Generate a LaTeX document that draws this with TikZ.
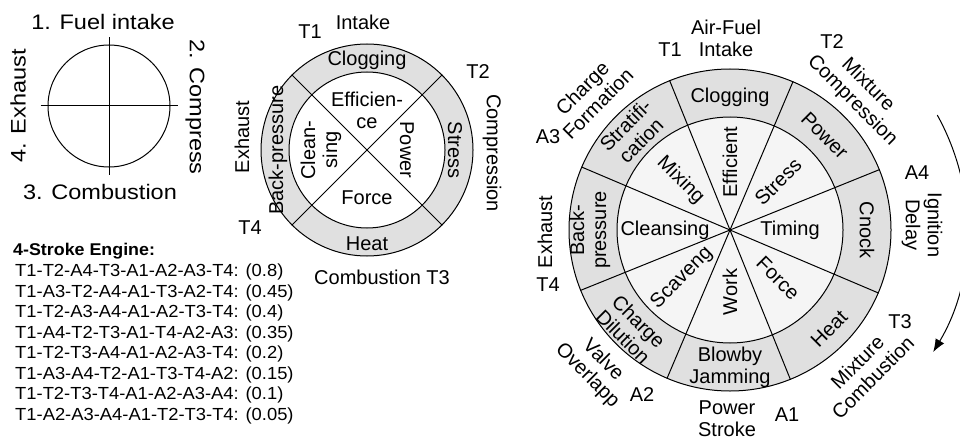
\documentclass[tikz,border=0pt]{standalone}
\usepackage{fontspec}
\setmainfont{Liberation Sans}
\newfontfamily\widefont[FakeStretch=1.12]{Liberation Sans}
\newfontfamily\listfont[FakeStretch=1.05]{Liberation Sans}
\usetikzlibrary{arrows.meta,calc}

\definecolor{ringgray}{HTML}{E0E0E0}
\definecolor{corefill}{HTML}{F5F5F5}

\tikzset{
  lbl/.style={font=\fontsize{20}{22}\selectfont, inner sep=0pt, align=center},
  biglbl/.style={font=\widefont\fontsize{21}{23}\selectfont, inner sep=0pt},
  listline/.style={font=\listfont\fontsize{17.5}{20}\selectfont, anchor=west, inner sep=0pt},
  listhead/.style={font=\listfont\bfseries\fontsize{17}{20}\selectfont, anchor=west, inner sep=0pt},
  disc/.style={circle, draw=black, line width=1pt, inner sep=0pt},
  spoke/.style={draw=black, line width=1pt},
}

\begin{document}
\begin{tikzpicture}[x=1pt,y=1pt]
\clip (0,0) rectangle (960,-441);
\fill[white] (0,0) rectangle (960,-441);

% ---------- four-stroke cycle sketch ----------
\node[disc, minimum size=122pt] (lc) at (109,-106) {};
\draw[spoke] ($(lc.west)+(-7,0)$) -- ($(lc.east)+(7,0)$);
\draw[spoke] ($(lc.north)+(0,7)$) -- ($(lc.south)+(0,-7)$);
\node[biglbl] (s1) at (103,-22) {1. Fuel intake};
\node[biglbl, rotate=-90] (s2) at (195,-107) {2. Compress};
\node[biglbl] (s3) at (100,-192) {3. Combustion};
\node[biglbl, rotate=90] (s4) at (18,-106) {4. Exhaust};

% ---------- sequence list ----------
\node[listhead] (lh) at (13,-251) {4-Stroke Engine:};
\foreach \txt [count=\i from 0] in {
  {T1-T2-A4-T3-A1-A2-A3-T4: (0.8)},
  {T1-A3-T2-A4-A1-T3-A2-T4: (0.45)},
  {T1-T2-A3-A4-A1-A2-T3-T4: (0.4)},
  {T1-A4-T2-T3-A1-T4-A2-A3: (0.35)},
  {T1-T2-T3-A4-A1-A2-A3-T4: (0.2)},
  {T1-A3-A4-T2-A1-T3-T4-A2: (0.15)},
  {T1-T2-T3-T4-A1-A2-A3-A4: (0.1)},
  {T1-A2-A3-A4-A1-T2-T3-T4: (0.05)}}
  \node[listline] (seq\i) at (15,{-272-20.5*\i}) {\txt};

% ---------- four-sector wheel ----------
\node[disc, minimum size=212pt, fill=ringgray] (mo) at (367,-150) {};
\node[disc, minimum size=156pt, fill=white] (mi) at (mo.center) {};
\draw[spoke] (mo.45) -- (mo.225);
\draw[spoke] (mo.135) -- (mo.315);
\begin{scope}[shift={(mo.center)}]
  \node[lbl] (m-clog) at (90:90) {Clogging};
  \node[lbl, rotate=-90] (m-stress) at (0:88) {Stress};
  \node[lbl] (m-heat) at (-90:94) {Heat};
  \node[lbl, rotate=90] (m-back) at (180:89) {Back-pressure};
  \node[lbl] (m-eff) at (90:40) {Efficien-\\ce};
  \node[lbl, rotate=-90] (m-pow) at (0:40) {Power};
  \node[lbl] (m-force) at (-90:48) {Force};
  \node[lbl, rotate=90] (m-clean) at (180:46) {Clean-\\sing};
\end{scope}
\node[lbl] (m-t1) at (310,-32) {T1};
\node[lbl] (m-in) at (363,-22) {Intake};
\node[lbl] (m-t2) at (478,-72) {T2};
\node[lbl, rotate=-90] (m-comp) at (492,-153) {Compression};
\node[lbl, rotate=90] (m-exh) at (242,-137) {Exhaust};
\node[lbl] (m-t4) at (250,-228) {T4};
\node[lbl] (m-comb) at (382,-277) {Combustion T3};

% ---------- eight-sector wheel ----------
\node[disc, minimum size=322pt, fill=ringgray] (ro) at (730,-230) {};
\node[disc, minimum size=226pt, fill=corefill] (ri) at (ro.center) {};
\foreach \a in {22.5,67.5,...,337.5}
  \draw[spoke] (ro.center) -- (ro.\a);
\begin{scope}[shift={(ro.center)}]
  % inner sectors
  \node[lbl, rotate=90]  (r-eff)   at (90:68)   {Efficient};
  \node[lbl, rotate=45]  (r-str)   at (45:68)   {Stress};
  \node[lbl]             (r-tim)   at (0:60)    {Timing};
  \node[lbl, rotate=-45] (r-for)   at (-45:68)  {Force};
  \node[lbl, rotate=90]  (r-wrk)   at (-90:62)  {Work};
  \node[lbl, rotate=45]  (r-scv)   at (-135:68) {Scaveng};
  \node[lbl]             (r-cln)   at (180:65)  {Cleansing};
  \node[lbl, rotate=-45] (r-mix)   at (135:70)  {Mixing};
  % outer ring
  \node[lbl]             (r-clog)  at (90:133)  {Clogging};
  \node[lbl, rotate=-45] (r-pow)   at (45:134)  {Power};
  \node[lbl, rotate=-90] (r-cn)    at (0:137)   {Cnock};
  \node[lbl, rotate=45]  (r-heat)  at (-45:140) {Heat};
  \node[lbl]             (r-blow)  at (-90:137) {Blowby\\Jamming};
  \node[lbl, rotate=-45] (r-dil)   at (-135:140){Charge\\Dilution};
  \node[lbl, rotate=90]  (r-back)  at (180:140) {Back-\\pressure};
  \node[lbl, rotate=45]  (r-strat) at (135:137) {Stratifi-\\cation};
\end{scope}
% stroke names and markers around the wheel
\node[lbl] (r-af)   at (726,-38)  {Air-Fuel\\Intake};
\node[lbl] (r-t1)   at (670,-50)  {T1};
\node[lbl] (r-t2)   at (832,-42)  {T2};
\node[lbl, rotate=-45] (r-mc) at (860,-93) {Mixture\\Compression};
\node[lbl] (r-a4)   at (917,-173) {A4};
\node[lbl, rotate=-90] (r-id) at (922,-225) {Ignition\\Delay};
\node[lbl] (r-t3)   at (900,-322) {T3};
\node[lbl, rotate=45] (r-mcb) at (865,-370) {Mixture\\Combustion};
\node[lbl] (r-a1)   at (787,-415) {A1};
\node[lbl] (r-ps)   at (727,-419) {Power\\Stroke};
\node[lbl] (r-a2)   at (642,-395) {A2};
\node[lbl, rotate=-45] (r-vo) at (595,-368) {Valve\\Overlapp};
\node[lbl] (r-t4)   at (548,-285) {T4};
\node[lbl, rotate=90] (r-ex) at (545,-232) {Exhaust};
\node[lbl] (r-a3)   at (548,-137) {A3};
\node[lbl, rotate=45] (r-cf) at (590,-96) {Charge\\Formation};

% direction of rotation
\draw[line width=1pt, -{Latex[length=13pt,width=10pt]}]
  ($(ro.center)+(29:237)$) arc[start angle=29, end angle=-31, radius=237];
\end{tikzpicture}
\end{document}
